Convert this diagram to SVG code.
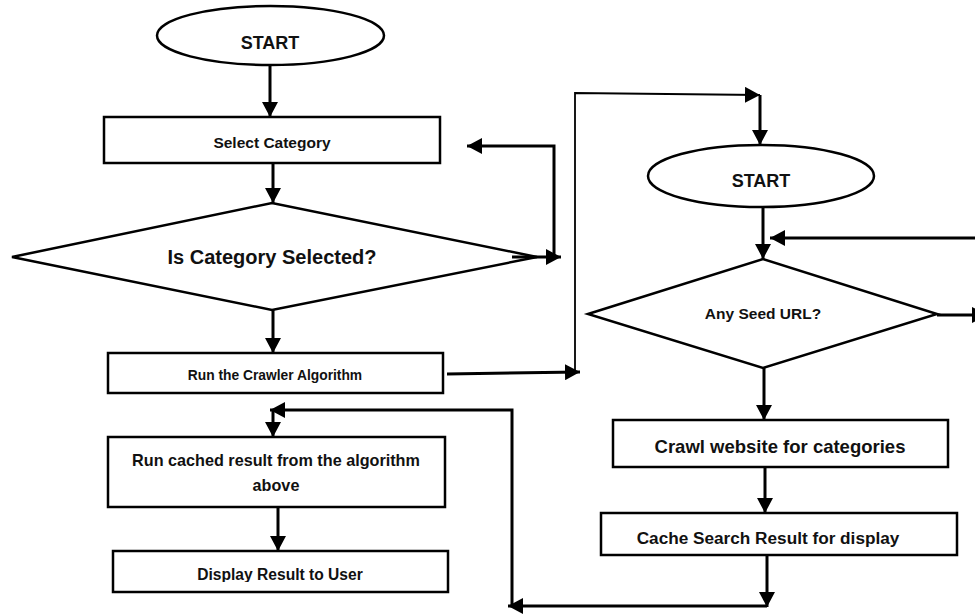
<svg xmlns="http://www.w3.org/2000/svg" width="975" height="615" viewBox="0 0 975 615">
<style>
.shape{fill:#fff;stroke:#000;stroke-width:2.5}
.t{font-family:"Liberation Sans",Arial,sans-serif;font-weight:bold;fill:#111;text-anchor:middle}
.c{fill:none;stroke:#000;stroke-width:3}
.thin{fill:none;stroke:#000;stroke-width:1.8}
</style>
<defs>
<marker id="ah" markerUnits="userSpaceOnUse" markerWidth="16" markerHeight="16" refX="15" refY="8" orient="auto">
<path d="M0,0 L15,8 L0,16 z" fill="#000"/>
</marker>
<clipPath id="dclip"><rect x="113" y="551" width="335" height="31"/></clipPath>
</defs>
<rect width="975" height="615" fill="#fff"/>

<g id="start1">
<ellipse class="shape" cx="270.5" cy="35.5" rx="113.5" ry="29.5"/>
<text class="t" x="270" y="49" font-size="18">START</text>
</g>
<g id="select">
<rect class="shape" x="104" y="117" width="336" height="46"/>
<text class="t" x="272" y="147.5" font-size="15.5">Select Category</text>
</g>
<g id="decision1">
<polygon class="shape" points="12,257 272,203 537,257 272,310"/>
<text class="t" x="272" y="264" font-size="20">Is Category Selected?</text>
</g>
<g id="crawler">
<rect class="shape" x="108" y="353" width="335" height="40"/>
<text class="t" x="275" y="380" font-size="13.8">Run the Crawler Algorithm</text>
</g>
<g id="cached">
<rect class="shape" x="108" y="437" width="337" height="70"/>
<text class="t" x="276" y="466" font-size="16.2">Run cached result from the algorithm</text>
<text class="t" x="276" y="491" font-size="16.2">above</text>
</g>
<g id="display">
<rect class="shape" x="113" y="551" width="335" height="41"/>
<text class="t" x="280" y="580" font-size="15.6" clip-path="url(#dclip)">Display Result to User</text>
</g>
<g id="start2">
<ellipse class="shape" cx="761" cy="176" rx="113" ry="31"/>
<text class="t" x="761" y="186.5" font-size="18">START</text>
</g>
<g id="decision2">
<polygon class="shape" points="588,314 763,259 937,314 763,368"/>
<text class="t" x="763" y="319" font-size="15.5">Any Seed URL?</text>
</g>
<g id="crawl">
<rect class="shape" x="613" y="420" width="335" height="47"/>
<text class="t" x="780" y="453" font-size="18.5">Crawl website for categories</text>
</g>
<g id="cache">
<rect class="shape" x="601" y="513" width="356" height="42"/>
<text class="t" x="768" y="544" font-size="17.2">Cache Search Result for display</text>
</g>

<g id="connectors">
<path class="c" d="M270 65 L270 117" marker-end="url(#ah)"/>
<path class="c" d="M273 163 L273 203" marker-end="url(#ah)"/>
<path class="c" d="M273 310 L273 353" marker-end="url(#ah)"/>
<path class="c" d="M512 257 L561 257" marker-end="url(#ah)"/>
<path class="c" d="M554 257 L554 146 L467 146" marker-end="url(#ah)"/>
<path class="c" d="M447 374 L580 372" marker-end="url(#ah)"/>
<path class="thin" d="M575 370 L575 93 L760 95" marker-end="url(#ah)"/>
<path class="c" d="M760 95 L760 145" marker-end="url(#ah)"/>
<path class="c" d="M763 207 L763 259" marker-end="url(#ah)"/>
<path class="c" d="M975 238 L770 238" marker-end="url(#ah)"/>
<path class="c" d="M937 315 L987 315" marker-end="url(#ah)"/>
<path class="c" d="M764 368 L764 420" marker-end="url(#ah)"/>
<path class="c" d="M765 467 L765 513" marker-end="url(#ah)"/>
<path class="c" d="M767 555 L767 607" marker-end="url(#ah)"/>
<path class="c" d="M767 606 L508 606" marker-end="url(#ah)"/>
<path class="c" d="M512 606 L512 410 L270 410" marker-end="url(#ah)"/>
<path class="c" d="M273 410 L273 437" marker-end="url(#ah)"/>
<path class="c" d="M278 507 L278 551" marker-end="url(#ah)"/>
</g>
</svg>
